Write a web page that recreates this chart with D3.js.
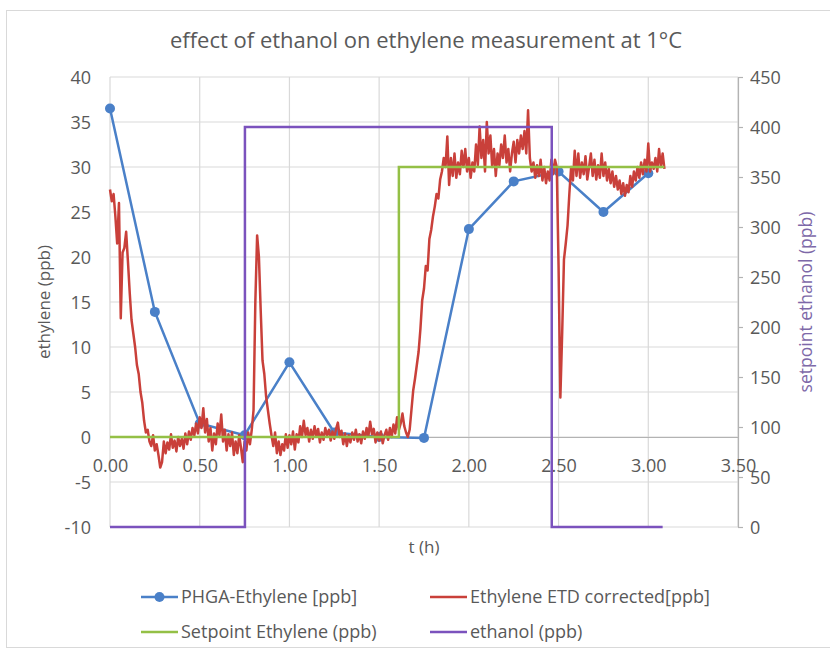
<!DOCTYPE html>
<html>
<head>
<meta charset="utf-8">
<script src="https://cdn.jsdelivr.net/npm/d3@7"></script>
<style>
  body { margin: 0; background: #fff; }
  svg { display: block; }
  text { font-family: "Open Sans", sans-serif; fill: #595959; }
</style>
</head>
<body>
<svg id="chart" width="830" height="652"></svg>
<script>
// ---- data ----
const titleText = "effect of ethanol on ethylene measurement at 1°C";

const xTicks = [0, 0.5, 1, 1.5, 2, 2.5, 3, 3.5];
const yLeftTicks = [-10, -5, 0, 5, 10, 15, 20, 25, 30, 35, 40];
const yRightTicks = [0, 50, 100, 150, 200, 250, 300, 350, 400, 450];

// PHGA-Ethylene [ppb]
const phgaTime = [0, 0.25, 0.5, 0.75, 1.0, 1.25, 1.5, 1.75, 2.0, 2.25, 2.5, 2.75, 3.0];
const phgaValue = [36.5, 13.9, 1.5, 0.2, 8.3, 0.5, 0.0, -0.1, 23.1, 28.4, 29.5, 25.0, 29.3];

// Setpoint Ethylene (ppb)
const setpointTime = [0, 1.61, 1.61, 3.09];
const setpointValue = [0, 0, 30, 30];

// ethanol (ppb), right axis
const ethanolTime = [0, 0.752, 0.752, 2.462, 2.462, 3.08];
const ethanolValue = [0, 0, 400, 400, 0, 0];

// Ethylene ETD corrected[ppb]  [t, value]
const etdCorrected = [
  [0.00,27.5],[0.01,26.2],[0.02,27.0],[0.03,24.5],[0.04,21.5],[0.05,26.0],[0.06,13.2],[0.07,20.5],[0.08,21.0],[0.09,22.8],
  [0.10,19.5],[0.11,16.0],[0.12,13.0],[0.13,11.5],[0.14,10.0],[0.15,8.0],[0.16,7.0],[0.17,5.0],[0.18,3.8],[0.19,1.8],
  [0.20,0.5],[0.21,0.8],[0.22,-0.5],[0.23,-1.0],[0.24,0.2],[0.25,-1.5],[0.26,-0.8],[0.27,-2.0],[0.28,-3.4],[0.29,-2.8],
  [0.30,-0.5],[0.31,-1.8],[0.32,-0.6],[0.33,-1.4],[0.34,0.3],[0.35,-1.2],[0.36,-0.4],[0.37,-1.6],[0.38,0.0],[0.39,-1.0],
  [0.40,-0.2],[0.41,-1.3],[0.42,0.4],[0.43,-0.8],[0.44,0.6],[0.45,-0.3],[0.46,1.0],[0.47,0.2],[0.48,1.5],[0.49,0.4],
  [0.50,2.2],[0.51,1.0],[0.52,3.2],[0.53,0.5],[0.54,2.0],[0.55,-0.5],[0.56,1.0],[0.57,-1.5],[0.58,0.4],[0.59,-0.8],
  [0.60,1.5],[0.61,0.2],[0.62,2.5],[0.63,-0.5],[0.64,0.8],[0.65,-1.5],[0.66,0.3],[0.67,-1.0],[0.68,0.5],[0.69,-2.0],
  [0.70,-0.5],[0.71,-1.8],[0.72,0.2],[0.73,-1.2],[0.74,-2.8],[0.75,-0.5],[0.76,-1.5],[0.77,0.5],[0.78,-0.8],[0.79,0.8],
  [0.80,3.0],[0.81,15.0],[0.82,22.4],[0.83,20.0],[0.84,14.0],[0.85,8.5],[0.86,7.0],[0.87,4.5],[0.88,3.0],[0.89,1.5],
  [0.90,0.2],[0.91,-1.0],[0.92,0.5],[0.93,-1.8],[0.94,-0.5],[0.95,-2.0],[0.96,-0.8],[0.97,-1.5],[0.98,0.3],[0.99,-1.2],
  [1.00,0.2],[1.01,-0.8],[1.02,0.6],[1.03,-1.4],[1.04,0.3],[1.05,-0.6],[1.06,1.2],[1.07,0.0],[1.08,1.8],[1.09,0.2],
  [1.10,1.0],[1.11,-0.5],[1.12,0.8],[1.13,-0.2],[1.14,1.2],[1.15,0.1],[1.16,0.9],[1.17,-0.6],[1.18,0.5],[1.19,-0.3],
  [1.20,1.0],[1.21,0.2],[1.22,0.8],[1.23,-0.4],[1.24,0.6],[1.25,-0.2],[1.26,0.9],[1.27,1.6],[1.28,0.0],[1.29,0.7],
  [1.30,-0.8],[1.31,0.4],[1.32,-1.0],[1.33,0.2],[1.34,-0.6],[1.35,0.5],[1.36,-0.3],[1.37,0.8],[1.38,-0.5],[1.39,0.3],
  [1.40,-0.7],[1.41,0.6],[1.42,-0.2],[1.43,1.0],[1.44,0.1],[1.45,1.7],[1.46,0.3],[1.47,0.9],[1.48,-0.6],[1.49,0.5],
  [1.50,-0.4],[1.51,0.6],[1.52,-0.7],[1.53,0.2],[1.54,0.8],[1.55,-0.3],[1.56,1.0],[1.57,0.0],[1.58,1.4],[1.59,0.4],
  [1.60,2.2],[1.61,0.8],[1.62,1.5],[1.63,2.6],[1.64,1.2],[1.65,0.5],[1.66,0.0],[1.67,0.8],[1.68,3.0],[1.69,5.2],
  [1.70,6.5],[1.71,8.0],[1.72,9.5],[1.73,12.0],[1.74,15.2],[1.75,16.5],[1.76,19.0],[1.77,18.5],[1.78,22.0],[1.79,23.0],
  [1.80,24.5],[1.81,25.6],[1.82,27.0],[1.83,26.5],[1.84,28.6],[1.85,29.5],[1.86,31.0],[1.87,30.0],[1.88,33.4],[1.89,28.0],
  [1.90,31.0],[1.91,29.0],[1.92,31.5],[1.93,28.8],[1.94,30.5],[1.95,29.2],[1.96,31.8],[1.97,30.0],[1.98,32.0],[1.99,29.5],
  [2.00,31.0],[2.01,28.8],[2.02,30.5],[2.03,29.5],[2.04,32.5],[2.05,30.2],[2.06,34.5],[2.07,31.0],[2.08,33.0],[2.09,29.5],
  [2.10,35.0],[2.11,31.5],[2.12,33.5],[2.13,30.0],[2.14,32.0],[2.15,29.0],[2.16,31.5],[2.17,30.2],[2.18,32.5],[2.19,31.0],
  [2.20,33.5],[2.21,30.5],[2.22,32.0],[2.23,29.5],[2.24,31.5],[2.25,32.8],[2.26,30.5],[2.27,33.0],[2.28,31.5],[2.29,33.5],
  [2.30,32.0],[2.31,34.0],[2.32,31.5],[2.33,36.3],[2.34,31.0],[2.35,29.5],[2.36,30.5],[2.37,28.8],[2.38,30.2],[2.39,29.0],
  [2.40,30.8],[2.41,28.5],[2.42,30.0],[2.43,28.2],[2.44,29.5],[2.45,28.5],[2.46,30.8],[2.47,29.2],[2.48,30.8],[2.49,30.0],
  [2.50,18.9],[2.51,4.4],[2.52,11.5],[2.53,19.7],[2.54,21.5],[2.55,23.5],[2.56,27.0],[2.57,30.0],[2.58,28.5],[2.59,31.8],
  [2.60,29.0],[2.61,31.5],[2.62,28.8],[2.63,30.5],[2.64,29.2],[2.65,31.2],[2.66,28.6],[2.67,30.0],[2.68,31.5],[2.69,29.0],
  [2.70,30.8],[2.71,28.6],[2.72,30.2],[2.73,28.8],[2.74,31.5],[2.75,29.0],[2.76,30.5],[2.77,28.5],[2.78,29.8],[2.79,28.2],
  [2.80,29.5],[2.81,27.8],[2.82,29.0],[2.83,27.5],[2.84,28.5],[2.85,27.0],[2.86,28.2],[2.87,26.8],[2.88,28.0],[2.89,27.2],
  [2.90,29.0],[2.91,27.8],[2.92,29.5],[2.93,28.5],[2.94,30.0],[2.95,28.8],[2.96,30.5],[2.97,29.2],[2.98,30.8],[2.99,29.5],
  [3.00,32.6],[3.01,29.5],[3.02,30.5],[3.03,29.8],[3.04,31.0],[3.05,29.5],[3.06,32.0],[3.07,30.0],[3.08,31.5],[3.09,29.8]
];

const legendItems = [
  { name: "PHGA-Ethylene [ppb]", color: "#4a80c8", marker: true },
  { name: "Ethylene ETD corrected[ppb]", color: "#c9403a", marker: false },
  { name: "Setpoint Ethylene (ppb)", color: "#94c046", marker: false },
  { name: "ethanol (ppb)", color: "#7b52bd", marker: false }
];

// ---- layout ----
const plot = { left: 110, right: 738, top: 77, bottom: 527 };
const gridColor = "#d9d9d9";
const axisColor = "#b3b3b3";

const svg = d3.select("#chart");

const x = d3.scaleLinear().domain([0, 3.5]).range([plot.left, plot.right]);
const yL = d3.scaleLinear().domain([-10, 40]).range([plot.bottom, plot.top]);
const yR = d3.scaleLinear().domain([0, 450]).range([plot.bottom, plot.top]);

// excel prints a plain hyphen for negatives
const plainNum = d => String(d);

// outer frame
svg.append("rect")
  .attr("x", 6.5).attr("y", 10.5)
  .attr("width", 830).attr("height", 637)
  .attr("fill", "#fff")
  .attr("stroke", "#d9d9d9");

// title
svg.append("text")
  .attr("x", 426).attr("y", 48)
  .attr("text-anchor", "middle")
  .style("font-size", "22px")
  .text(titleText);

// gridlines
svg.append("g").selectAll("line")
  .data(yLeftTicks)
  .join("line")
  .attr("x1", plot.left).attr("x2", plot.right)
  .attr("y1", d => yL(d)).attr("y2", d => yL(d))
  .attr("stroke", gridColor).attr("stroke-width", 1.2);

svg.append("g").selectAll("line")
  .data(xTicks)
  .join("line")
  .attr("x1", d => x(d)).attr("x2", d => x(d))
  .attr("y1", plot.top).attr("y2", plot.bottom)
  .attr("stroke", gridColor).attr("stroke-width", 1.2);

// left axis labels
const leftAxis = svg.append("g")
  .attr("transform", `translate(${plot.left},0)`)
  .call(d3.axisLeft(yL).tickValues(yLeftTicks).tickSize(0).tickPadding(19).tickFormat(plainNum));
leftAxis.select(".domain").remove();
leftAxis.selectAll("text").style("font-size", "18px").attr("fill", "#595959").attr("dy", "0.36em");

// right axis
const rightAxis = svg.append("g")
  .attr("transform", `translate(${plot.right},0)`)
  .call(d3.axisRight(yR).tickValues(yRightTicks).tickSize(5).tickPadding(7).tickSizeOuter(0).tickFormat(plainNum));
rightAxis.select(".domain").attr("stroke", axisColor).attr("stroke-width", 1.2);
rightAxis.selectAll(".tick line").attr("stroke", axisColor).attr("stroke-width", 1.2);
rightAxis.selectAll("text").style("font-size", "18px").attr("fill", "#7d68a8").attr("dy", "0.36em");

// x axis sits on y = 0
const xAxis = svg.append("g")
  .attr("transform", `translate(0,${yL(0)})`)
  .call(d3.axisBottom(x).tickValues(xTicks).tickSize(0).tickPadding(22).tickFormat(d3.format(".2f")));
xAxis.select(".domain").attr("stroke", axisColor).attr("stroke-width", 1.2);
xAxis.selectAll("text").style("font-size", "18px").attr("fill", "#595959");

// axis titles
svg.append("text")
  .attr("transform", `translate(44,302) rotate(-90)`)
  .attr("text-anchor", "middle")
  .attr("dy", "0.35em")
  .style("font-size", "17px")
  .text("ethylene (ppb)");

svg.append("text")
  .attr("transform", `translate(806,302) rotate(-90)`)
  .attr("text-anchor", "middle")
  .attr("dy", "0.35em")
  .style("font-size", "17.5px")
  .style("fill", "#7d68a8")
  .text("setpoint ethanol (ppb)");

svg.append("text")
  .attr("x", 424).attr("y", 553)
  .attr("text-anchor", "middle")
  .style("font-size", "17px")
  .text("t (h)");

// series
const lineL = d3.line().x(d => x(d[0])).y(d => yL(d[1]));
const lineR = d3.line().x(d => x(d[0])).y(d => yR(d[1]));

const phga = phgaTime.map((t, i) => [t, phgaValue[i]]);
const setpoint = setpointTime.map((t, i) => [t, setpointValue[i]]);
const ethanol = ethanolTime.map((t, i) => [t, ethanolValue[i]]);

svg.append("path")
  .datum(phga)
  .attr("d", lineL)
  .attr("fill", "none")
  .attr("stroke", legendItems[0].color)
  .attr("stroke-width", 2.5);

svg.append("g").selectAll("circle")
  .data(phga)
  .join("circle")
  .attr("cx", d => x(d[0]))
  .attr("cy", d => yL(d[1]))
  .attr("r", 5)
  .attr("fill", legendItems[0].color);

svg.append("path")
  .datum(etdCorrected)
  .attr("d", lineL)
  .attr("fill", "none")
  .attr("stroke", legendItems[1].color)
  .attr("stroke-width", 2.5)
  .attr("stroke-linejoin", "round");

svg.append("path")
  .datum(setpoint)
  .attr("d", lineL)
  .attr("fill", "none")
  .attr("stroke", legendItems[2].color)
  .attr("stroke-width", 2.5);

svg.append("path")
  .datum(ethanol)
  .attr("d", lineR)
  .attr("fill", "none")
  .attr("stroke", legendItems[3].color)
  .attr("stroke-width", 2.5);

// legend
const legendPos = [[141, 597], [430, 597], [141, 632], [430, 632]];
const legend = svg.append("g").selectAll("g")
  .data(legendItems)
  .join("g")
  .attr("transform", (d, i) => `translate(${legendPos[i][0]},${legendPos[i][1]})`);

legend.append("line")
  .attr("x1", 0).attr("x2", 37)
  .attr("stroke", d => d.color)
  .attr("stroke-width", 2.5);

legend.filter(d => d.marker).append("circle")
  .attr("cx", 18.5).attr("r", 5)
  .attr("fill", d => d.color);

legend.append("text")
  .attr("x", 40)
  .attr("dy", "0.35em")
  .style("font-size", "18px")
  .text(d => d.name);
</script>
</body>
</html>
